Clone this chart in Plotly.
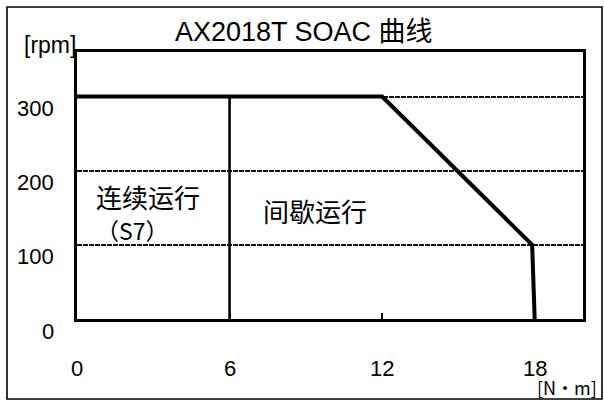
import plotly.graph_objects as go

# ---- data ----
torque = [0, 12, 17.9, 18]          # N·m
speed = [300, 300, 100, 0]           # rpm
divider_torque = [6, 6]
divider_speed = [300, 0]
x_ticks = [0, 6, 12, 18]
x_tick_labels = ["0", "6", "12", "18"]
y_ticks = [0, 100, 200, 300]
y_tick_labels = ["0", "100", "200", "300"]
title_text = "AX2018T SOAC 曲线"
y_unit = "[rpm]"
x_unit = "[N・m]"
region_cont = "连续运行"
region_cont_sub = "（S7）"
region_int = "间歇运行"

W, H = 604, 403
L, R, T, B = 77, 583, 52, 319
XMAX, YMAX = 19.9, 360

def px(x):
    return (x - L) / (R - L)

def py(y):
    return (B - y) / (B - T)

FONT = "Liberation Sans, Arial, Noto Sans CJK SC, sans-serif"
CJK = "Noto Sans CJK SC, sans-serif"

fig = go.Figure()
fig.add_trace(go.Scatter(x=divider_torque, y=divider_speed, mode="lines",
                         line=dict(color="black", width=2.6), hoverinfo="skip"))
fig.add_trace(go.Scatter(x=torque, y=speed, mode="lines",
                         line=dict(color="black", width=4), hoverinfo="skip"))

ann = []
for v, t in zip(x_ticks, x_tick_labels):
    ann.append(dict(x=v, xref="x", y=py(368), yref="paper", text=t, showarrow=False,
                    xanchor="center", yanchor="middle", font=dict(family=FONT, size=22, color="black")))
for v, t in zip(y_ticks, y_tick_labels):
    ann.append(dict(x=px(56), xref="paper", y=v, yref="y", yshift=-12, text=t, showarrow=False,
                    xanchor="right", yanchor="middle", font=dict(family=FONT, size=22, color="black")))
ann.append(dict(x=px(304), xref="paper", y=py(32), yref="paper", text=title_text, showarrow=False,
                xanchor="center", yanchor="middle", font=dict(family=FONT, size=27, color="black")))
ann.append(dict(x=px(50), xref="paper", y=py(45), yref="paper", text=y_unit, showarrow=False,
                xanchor="center", yanchor="middle", font=dict(family=FONT, size=23, color="black")))
ann.append(dict(x=px(567), xref="paper", y=py(387), yref="paper", text=x_unit, showarrow=False,
                xanchor="center", yanchor="middle", borderpad=0,
                font=dict(family=CJK, size=18, color="black")))
ann.append(dict(x=px(94), xref="paper", y=py(196), yref="paper", text=region_cont, showarrow=False,
                xanchor="left", yanchor="middle", font=dict(family=CJK, size=26, color="black")))
ann.append(dict(x=px(94), xref="paper", y=py(230), yref="paper", text=region_cont_sub, showarrow=False,
                xanchor="left", yanchor="middle", font=dict(family=CJK, size=23, color="black")))
ann.append(dict(x=px(315), xref="paper", y=py(210), yref="paper", text=region_int, showarrow=False,
                xanchor="center", yanchor="middle", font=dict(family=CJK, size=26, color="black")))

fig.update_layout(
    width=W, height=H,
    margin=dict(l=L, r=W - R, t=T, b=H - B, autoexpand=False),
    paper_bgcolor="white", plot_bgcolor="white",
    showlegend=False,
    annotations=ann,
    shapes=[dict(type="rect", xref="paper", yref="paper",
                 x0=px(7), x1=px(602), y0=py(399), y1=py(7),
                 line=dict(color="black", width=1.6), layer="below")],
    xaxis=dict(range=[0, XMAX], showgrid=False, zeroline=False, showline=True,
               linecolor="black", linewidth=3, mirror=True,
               tickvals=[6, 12, 18], ticks="inside", ticklen=6, tickwidth=2, tickcolor="black",
               showticklabels=False, fixedrange=True),
    yaxis=dict(range=[0, YMAX], showgrid=True, gridcolor="#111", gridwidth=1.5, griddash="5px,1px",
               tickvals=[100, 200, 300], zeroline=False, showline=True,
               linecolor="black", linewidth=3, mirror=True, ticks="",
               showticklabels=False, fixedrange=True),
)

fig.write_html("out.html", config={"displayModeBar": False},
               post_script="document.body.style.margin='0';document.body.style.overflow='hidden';")
